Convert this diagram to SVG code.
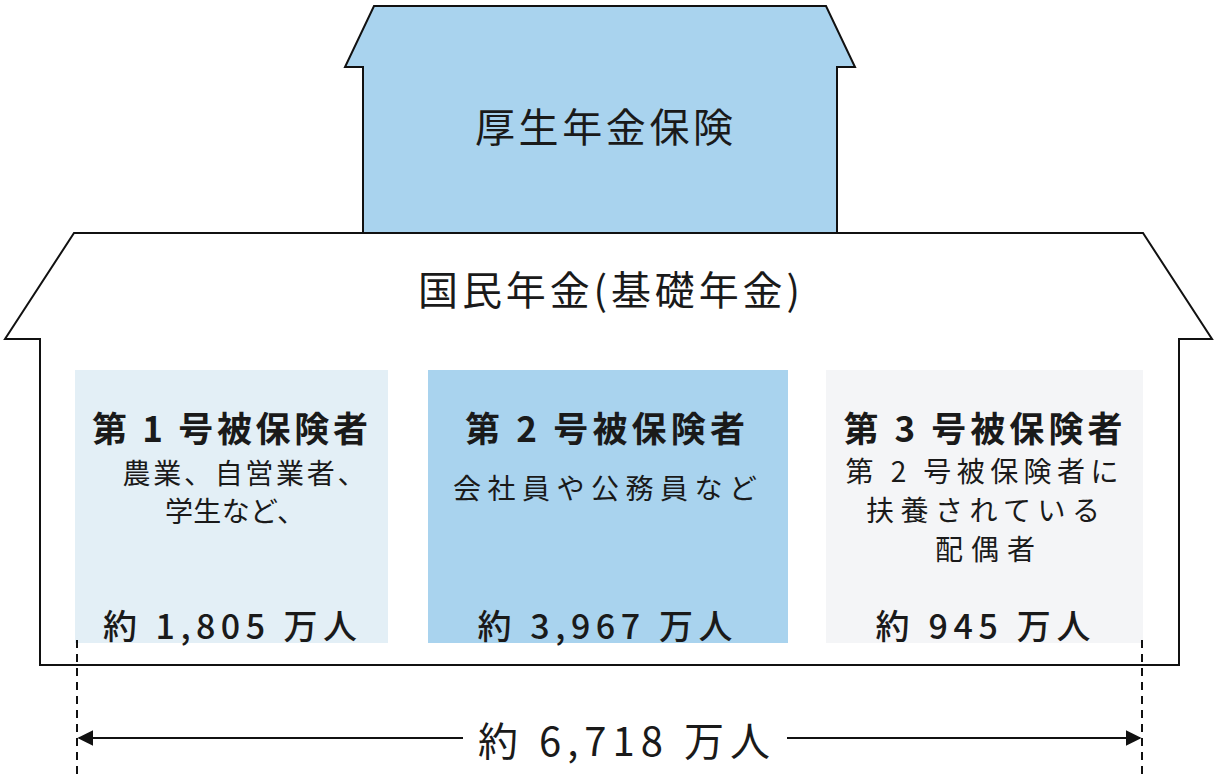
<svg xmlns="http://www.w3.org/2000/svg" width="1215" height="780" viewBox="0 0 1215 780">
  <style>
    .outline { stroke: #111; stroke-width: 2; stroke-linejoin: miter; }
    .t { font-family: "Noto Sans CJK JP", "Noto Sans", sans-serif; fill: #1a1a1a; text-anchor: middle; }
    .title { font-size: 35px; font-weight: 700; }
    .sub { font-size: 28px; font-weight: 400; }
    .count { font-size: 34px; font-weight: 500; }
    .big { font-size: 40px; font-weight: 400; }
    .dash { stroke: #111; stroke-width: 2; stroke-dasharray: 8 6; fill: none; }
  </style>
  <defs>
    <marker id="arrow" viewBox="0 0 10 10" refX="9" refY="5" markerWidth="16" markerHeight="16" markerUnits="userSpaceOnUse" orient="auto">
      <path d="M0,0 L10,5 L0,10 z" fill="#111"/>
    </marker>
  </defs>
  <rect width="1215" height="780" fill="#ffffff"/>

  <g id="kosei-nenkin">
    <path class="outline" fill="#a9d3ee" d="M374,6 L826,6 L855,67 L837,67 L837,233 L363,233 L363,67 L345,67 Z"/>
    <text class="t big" x="604" y="142" textLength="258" lengthAdjust="spacing">厚生年金保険</text>
  </g>

  <g id="kokumin-nenkin">
    <path class="outline" fill="#ffffff" d="M74,233 L1143,233 L1212,339 L1179,339 L1179,665 L40,665 L40,339 L5,339 Z"/>
    <text class="t big" x="609" y="305" textLength="382" lengthAdjust="spacing">国民年金(基礎年金)</text>
  </g>

  <g id="dai1">
    <rect x="75" y="370" width="313" height="273" fill="#e3eff6"/>
    <text class="t title" x="230" y="442" textLength="276" lengthAdjust="spacing">第 1 号被保険者</text>
    <text class="t sub" x="244" y="484" textLength="243" lengthAdjust="spacing">農業、自営業者、</text>
    <text class="t sub" x="235" y="522" textLength="140" lengthAdjust="spacing">学生など、</text>
    <text class="t count" x="230" y="639" textLength="254" lengthAdjust="spacing">約 1,805 万人</text>
  </g>

  <g id="dai2">
    <rect x="428" y="370" width="360" height="273" fill="#a9d3ee"/>
    <text class="t title" x="605" y="442" textLength="280" lengthAdjust="spacing">第 2 号被保険者</text>
    <text class="t sub" x="605" y="499" textLength="304" lengthAdjust="spacing">会社員や公務員など</text>
    <text class="t count" x="605" y="639" textLength="255" lengthAdjust="spacing">約 3,967 万人</text>
  </g>

  <g id="dai3">
    <rect x="826" y="370" width="317" height="273" fill="#f4f5f7"/>
    <text class="t title" x="983" y="442" textLength="279" lengthAdjust="spacing">第 3 号被保険者</text>
    <text class="t sub" x="982" y="482" textLength="273" lengthAdjust="spacing">第 2 号被保険者に</text>
    <text class="t sub" x="983" y="521" textLength="234" lengthAdjust="spacing">扶養されている</text>
    <text class="t sub" x="985" y="560" textLength="100" lengthAdjust="spacing">配偶者</text>
    <text class="t count" x="983" y="639" textLength="215" lengthAdjust="spacing">約 945 万人</text>
  </g>

  <g id="connectors">
    <line class="dash" x1="77" y1="640" x2="77" y2="780"/>
    <line class="dash" x1="1142" y1="640" x2="1142" y2="780"/>
    <line x1="463" y1="738" x2="79" y2="738" stroke="#111" stroke-width="2" marker-end="url(#arrow)"/>
    <line x1="787" y1="738" x2="1140" y2="738" stroke="#111" stroke-width="2" marker-end="url(#arrow)"/>
  </g>

  <g id="total">
    <text class="t big" x="624" y="756" textLength="292" lengthAdjust="spacing">約 6,718 万人</text>
  </g>
</svg>
